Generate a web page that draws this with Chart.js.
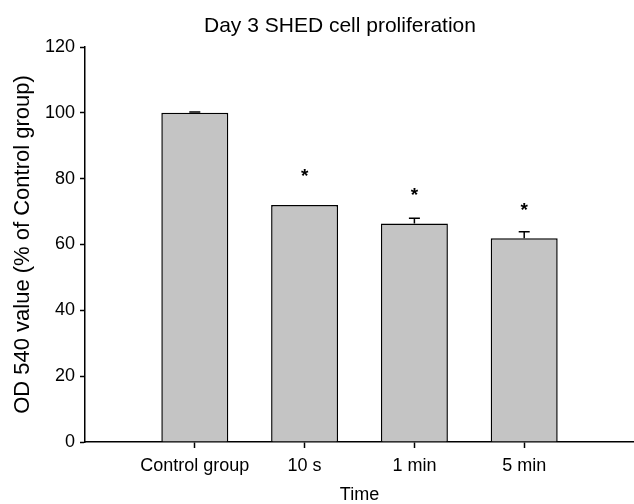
<!DOCTYPE html>
<html><head><meta charset="utf-8">
<script src="https://cdn.jsdelivr.net/npm/chart.js@4/dist/chart.umd.min.js"></script>
<style>html,body{margin:0;padding:0;background:#fff}#wrap{width:634px;height:504px;position:relative}</style>
</head><body><div id="wrap"><canvas id="c"></canvas></div>
<script>
const categories = ['', 'Control group', '10 s', '1 min', '5 min', ''];
const values = [null, 100, 72, 66.4, 61.9, null];
const errors = [null, 0.25, 0, 1.6, 2.0, null];
const marks = ['', '', '*', '*', '*', ''];
const yMin = 0, yMax = 120, yStep = 20;
const titleText = 'Day 3 SHED cell proliferation';
const xTitle = 'Time';
const yTitle = 'OD 540 value (% of Control group)';

const FONT = "'Liberation Sans', Arial, sans-serif";

const errorBars = {
  id: 'errorBars',
  afterDatasetsDraw(chart) {
    const ctx = chart.ctx, y = chart.scales.y, meta = chart.getDatasetMeta(0);
    ctx.save();
    ctx.strokeStyle = '#000'; ctx.lineWidth = 1.5;
    meta.data.forEach((bar, i) => {
      if (values[i] == null) return;
      const e = errors[i] || 0;
      const x = bar.x;
      const yBase = y.getPixelForValue(values[i]);
      const yTop = y.getPixelForValue(values[i] + e);
      if (e > 0) {
        ctx.beginPath();
        ctx.moveTo(x, yBase); ctx.lineTo(x, yTop);
        ctx.moveTo(x - 5.5, yTop); ctx.lineTo(x + 5.5, yTop);
        ctx.stroke();
      }
      if (marks[i]) {
        ctx.fillStyle = '#000';
        ctx.font = 'bold 19px ' + FONT;
        ctx.textAlign = 'center';
        ctx.textBaseline = 'alphabetic';
        const yc = yBase - 30.5;
        ctx.fillText(marks[i], x, yc + 7.9);
      }
    });
    ctx.restore();
  }
};

const titlePlugin = {
  id: 'topTitle',
  afterDraw(chart) {
    const ctx = chart.ctx;
    ctx.save();
    ctx.fillStyle = '#000';
    ctx.font = '21px ' + FONT;
    ctx.textAlign = 'center';
    ctx.textBaseline = 'alphabetic';
    ctx.fillText(titleText, 340, 31.5);
    ctx.restore();
  }
};

new Chart(document.getElementById('c'), {
  type: 'bar',
  data: {
    labels: categories,
    datasets: [{
      data: values,
      backgroundColor: '#c4c4c4',
      borderColor: '#000',
      borderWidth: 1.5,
      categoryPercentage: 1,
      barPercentage: 0.61
    }]
  },
  options: {
    responsive: true,
    maintainAspectRatio: false,
    animation: false,
    layout: { padding: { top: 47, right: 0, left: 0, bottom: 0 } },
    plugins: { legend: { display: false }, tooltip: { enabled: false }, title: { display: false } },
    scales: {
      x: {
        offset: false,
        grid: {
          display: true, offset: false, drawOnChartArea: false, drawTicks: true, tickLength: 6, tickWidth: 1.5,
          tickColor: c => categories[c.index] ? '#000' : 'rgba(0,0,0,0)'
        },
        border: { display: true, color: '#000', width: 1.5 },
        ticks: { color: '#000', font: { family: FONT, size: 18 }, padding: 7, autoSkip: false, maxRotation: 0 },
        title: { display: true, text: xTitle, color: '#000', font: { family: FONT, size: 18 }, padding: { top: 4, bottom: -2 } },
        afterFit(s) { s.height = 62; s.paddingRight = 0; s.paddingLeft = 0; }
      },
      y: {
        min: yMin, max: yMax,
        ticks: { stepSize: yStep, color: '#000', font: { family: FONT, size: 18 }, padding: 5 },
        grid: { display: true, drawOnChartArea: false, drawTicks: true, tickLength: 5, tickWidth: 1.5, tickColor: '#000' },
        border: { display: true, color: '#000', width: 1.5 },
        title: { display: true, text: yTitle, color: '#000', font: { family: FONT, size: 22 }, padding: { top: 10, bottom: 0 } },
        afterFit(s) { s.width = 85; }
      }
    }
  },
  plugins: [errorBars, titlePlugin]
});
</script>
</body></html>
